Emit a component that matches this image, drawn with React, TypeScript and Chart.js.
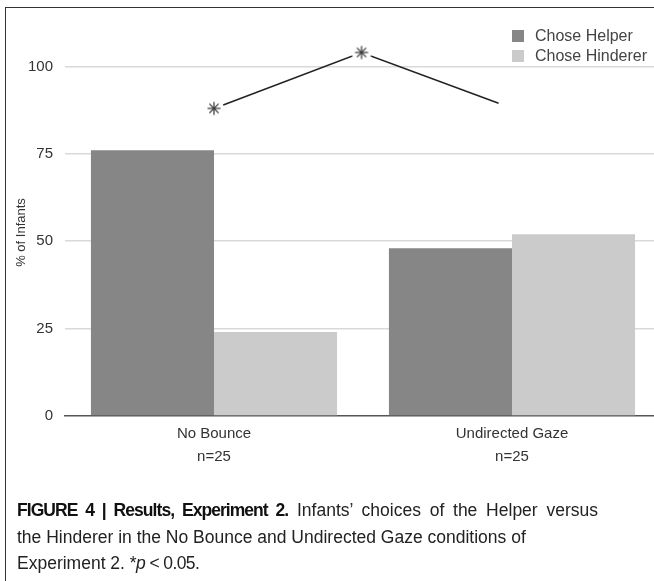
import React, { useEffect, useRef } from 'react';
import { Chart, registerables } from 'chart.js';

Chart.register(...registerables);

// ---- data ----
const categories: string[][] = [['No Bounce', 'n=25'], ['Undirected Gaze', 'n=25']];
const seriesLabels = ['Chose Helper', 'Chose Hinderer'];
const helperValues = [76, 48];
const hindererValues = [24, 52];
const yTickValues = [0, 25, 50, 75, 100];
const yAxisTitle = '% of Infants';
// significance bracket (x in category units: 0 = first category centre, 1 = second)
const sigX = [0, 0.495, 0.955];
const sigY = [88, 104, 89.5];
const sigMarked = [true, true, false];

const seriesColors = ['#868686', '#cbcbcb'];
const FONT = '"Liberation Sans", Arial, Helvetica, sans-serif';

function makeStar(): HTMLCanvasElement {
  const c = document.createElement('canvas');
  c.width = 22;
  c.height = 22;
  const g = c.getContext('2d')!;
  g.fillStyle = '#ffffff';
  g.beginPath();
  g.arc(11, 11, 10, 0, Math.PI * 2);
  g.fill();
  g.strokeStyle = '#333333';
  g.lineWidth = 1.2;
  for (let i = 0; i < 4; i++) {
    const a = (i * Math.PI) / 4;
    const dx = Math.cos(a) * 6.5;
    const dy = Math.sin(a) * 6.5;
    g.beginPath();
    g.moveTo(11 - dx, 11 - dy);
    g.lineTo(11 + dx, 11 + dy);
    g.stroke();
  }
  return c;
}

export default function App() {
  const ref = useRef<HTMLCanvasElement>(null);

  useEffect(() => {
    if (!ref.current) return;
    const star = makeStar();
    const chart = new Chart(ref.current, {
      type: 'bar',
      data: {
        datasets: [
          {
            type: 'line',
            label: 'sig',
            data: sigX.map((x, i) => ({ x, y: sigY[i] })),
            borderColor: '#222222',
            borderWidth: 1.6,
            pointStyle: sigMarked.map((m) => (m ? star : 'circle')) as any,
            pointRadius: sigMarked.map((m) => (m ? 5 : 0)),
            pointHoverRadius: sigMarked.map((m) => (m ? 5 : 0)),
            tension: 0,
            fill: false,
            clip: false as any,
            order: 0,
          } as any,
          {
            type: 'bar',
            label: seriesLabels[0],
            data: helperValues.map((v, i) => ({ x: i, y: v })),
            backgroundColor: seriesColors[0],
            borderWidth: 0,
            order: 1,
          },
          {
            type: 'bar',
            label: seriesLabels[1],
            data: hindererValues.map((v, i) => ({ x: i, y: v })),
            backgroundColor: seriesColors[1],
            borderWidth: 0,
            order: 1,
          },
        ],
      },
      options: {
        responsive: false,
        animation: false,
        events: [],
        layout: { padding: { top: 49, right: 9, left: 0, bottom: 0 } },
        datasets: {
          bar: { categoryPercentage: 0.826, barPercentage: 1.0 },
        },
        plugins: {
          legend: { display: false },
          tooltip: { enabled: false },
          title: { display: false },
        },
        scales: {
          x: {
            type: 'linear',
            min: -0.5,
            max: 1.5,
            offset: false,
            grid: { display: false, drawTicks: false },
            border: { display: true, color: '#555555', width: 1.5 },
            afterBuildTicks: (s: any) => {
              s.ticks = categories.map((_, i) => ({ value: i }));
            },
            ticks: {
              color: '#333333',
              padding: 6,
              font: { family: FONT, size: 15, lineHeight: 1.53 },
              maxRotation: 0,
              autoSkip: false,
              callback: (v: any) => categories[Math.round(Number(v))] ?? '',
            },
            afterFit: (s: any) => {
              s.height = 64;
            },
          },
          y: {
            type: 'linear',
            min: 0,
            max: 105,
            border: { display: false },
            grid: {
              drawTicks: false,
              lineWidth: 1.5,
              color: (ctx: any) => (ctx.tick && ctx.tick.value === 0 ? 'rgba(0,0,0,0)' : '#d9d9d9'),
            },
            afterBuildTicks: (s: any) => {
              s.ticks = yTickValues.map((v) => ({ value: v }));
            },
            ticks: {
              color: '#333333',
              padding: 12,
              font: { family: FONT, size: 15 },
            },
            title: {
              display: true,
              text: yAxisTitle,
              color: '#333333',
              font: { family: FONT, size: 13 },
              padding: { top: 14, bottom: 0 },
            },
            afterFit: (s: any) => {
              s.width = 65;
            },
          },
        },
      } as any,
    });
    return () => chart.destroy();
  }, []);

  return (
    <div
      style={{
        position: 'fixed',
        left: 0,
        top: 0,
        width: 654,
        height: 581,
        overflow: 'hidden',
        background: '#ffffff',
      }}
    >
      <canvas
        ref={ref}
        width={670}
        height={480}
        style={{ position: 'absolute', left: 0, top: 0, display: 'block' }}
      />
      <div
        style={{
          position: 'absolute',
          left: 5,
          top: 7,
          width: 800,
          height: 800,
          borderLeft: '1.5px solid #333',
          borderTop: '1.5px solid #333',
          pointerEvents: 'none',
        }}
      />
      {seriesLabels.map((lab, i) => (
        <div
          key={lab}
          style={{
            position: 'absolute',
            left: 512,
            top: 26 + i * 20,
            height: 20,
            display: 'flex',
            alignItems: 'center',
            fontFamily: FONT,
            fontSize: 16,
            color: '#444',
            whiteSpace: 'nowrap',
          }}
        >
          <span
            style={{
              display: 'inline-block',
              width: 12,
              height: 12,
              background: seriesColors[i],
              marginRight: 11,
            }}
          />
          {lab}
        </div>
      ))}
      <div
        style={{
          position: 'absolute',
          left: 17,
          top: 497,
          width: 581,
          fontFamily: FONT,
          fontSize: 17.5,
          lineHeight: '26.5px',
          color: '#222',
        }}
      >
        <div style={{ textAlign: 'justify', textAlignLast: 'justify', whiteSpace: 'nowrap' } as any}>
          <b style={{ letterSpacing: '-0.95px', color: '#111' }}>FIGURE 4 | Results, Experiment 2.</b> Infants’
          choices of the Helper versus
        </div>
        <div style={{ whiteSpace: 'nowrap' }}>
          the Hinderer in the No Bounce and Undirected Gaze conditions of
        </div>
        <div style={{ whiteSpace: 'nowrap' }}>
          Experiment 2. <span style={{ letterSpacing: '-0.6px' }}>*<i>p</i> &lt; 0.05.</span>
        </div>
      </div>
    </div>
  );
}
